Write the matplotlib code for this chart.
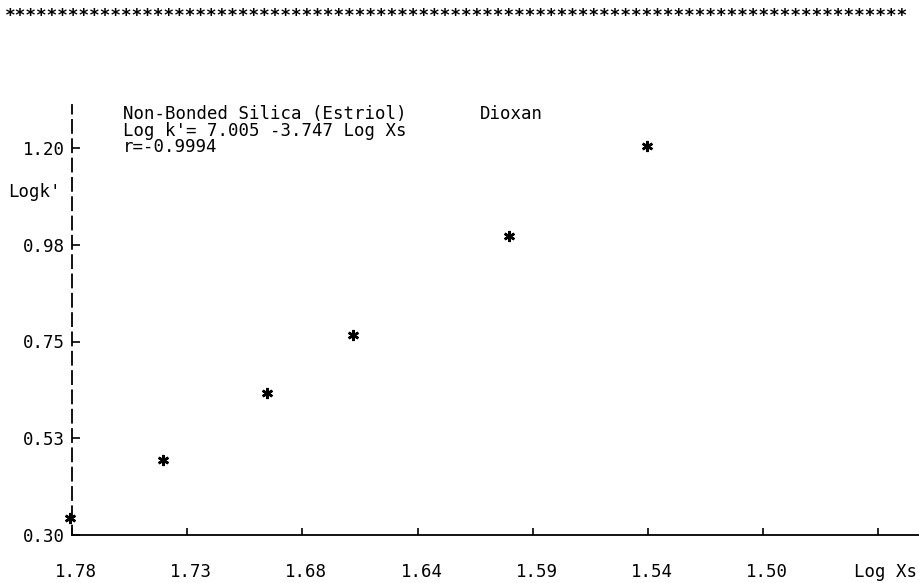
import matplotlib
matplotlib.use("Agg")
import matplotlib.pyplot as plt
from matplotlib.transforms import ScaledTranslation

# Retention data: log of solvent mole fraction vs log capacity factor
log_xs = [1.781, 1.743, 1.701, 1.666, 1.603, 1.547]
log_k = [0.340, 0.475, 0.630, 0.765, 0.995, 1.205]

x_ticks = [1.78, 1.7333, 1.6867, 1.64, 1.5933, 1.5467, 1.50, 1.4533]
x_tick_labels = ["1.78", "1.73", "1.68", "1.64", "1.59", "1.54", "1.50", ""]
y_ticks = [0.30, 0.525, 0.75, 0.975, 1.20]
y_tick_labels = ["0.30", "0.53", "0.75", "0.98", "1.20"]

title_line = "Non-Bonded Silica (Estriol)"
solvent = "Dioxan"
fit_line = "Log k'= 7.005 -3.747 Log Xs"
corr_line = "r=-0.9994"
x_title = "Log Xs"
y_title = "Logk'"
banner = "*" * 85

W, H = 919, 583
FONT = "DejaVu Sans Mono"
FS = 12.5

plt.rcParams["font.family"] = FONT


def fx(px):
    return px / W


def fy(py):
    return 1 - py / H


fig = plt.figure(figsize=(W / 100, H / 100), dpi=100)
fig.patch.set_facecolor("white")

ax = fig.add_axes([fx(72), fy(535), 1 - fx(72), fy(105) - fy(535)])
ax.set_xlim(1.78, 1.4368)
ax.set_ylim(0.30, 1.30)

ax.plot(log_xs, log_k, linestyle="none", marker=(6, 2, 0), markersize=8,
        markeredgewidth=1.8, color="black", clip_on=False)

for side in ("top", "right"):
    ax.spines[side].set_visible(False)
ax.spines["left"].set_linewidth(1.3)
ax.spines["left"].set_linestyle((2.0, (7.2, 3.5)))
ax.spines["bottom"].set_linewidth(1.3)

ax.set_xticks(x_ticks, x_tick_labels)
ax.set_yticks(y_ticks, y_tick_labels)
ax.tick_params(axis="x", direction="in", length=5, width=1.2, pad=20,
               labelsize=FS)
ax.tick_params(axis="y", direction="in", length=6, width=1.2, pad=5,
               labelsize=FS)

# printer labels sit a few pixels right of their tick
shift = ScaledTranslation(4 / 100, 0, fig.dpi_scale_trans)
for lab in ax.get_xticklabels():
    lab.set_transform(lab.get_transform() + shift)

fig.text(fx(8), fy(192), y_title, fontsize=FS, ha="left", va="center")
fig.text(fx(917), fy(572), x_title, fontsize=FS, ha="right", va="center")

fig.text(fx(123), fy(114), title_line, fontsize=FS, ha="left", va="center")
fig.text(fx(480), fy(114), solvent, fontsize=FS, ha="left", va="center")
fig.text(fx(123), fy(130.5), fit_line, fontsize=FS, ha="left", va="center")
fig.text(fx(123), fy(147), corr_line, fontsize=FS, ha="left", va="center")

fig.text(fx(5), fy(16), banner, fontsize=12.75, fontweight="bold", ha="left",
         va="center")

fig.savefig("out.png", dpi=100, facecolor="white")
